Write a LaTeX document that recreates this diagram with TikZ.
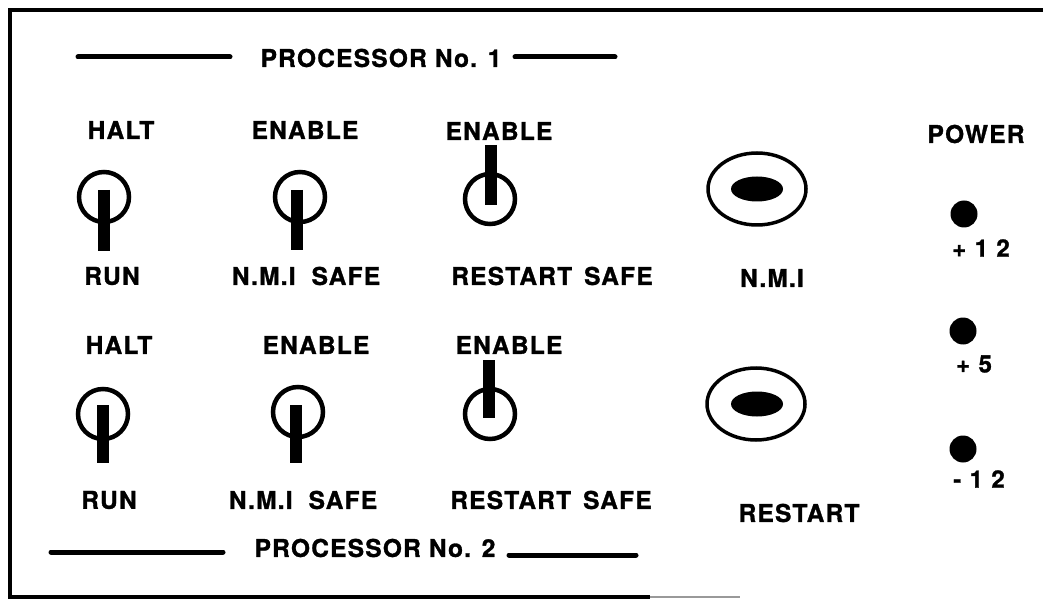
\documentclass[tikz,border=0pt]{standalone}
\usepackage{fontspec}
\newfontfamily\panelfont[LetterSpace=5,FakeBold=1.2]{TeX Gyre Heros}
\newfontfamily\numfont[LetterSpace=35,FakeBold=1.2]{TeX Gyre Heros}
\usetikzlibrary{shapes.geometric}
\tikzset{
  lbl/.style={inner sep=0pt, font=\panelfont\bfseries\fontsize{24.5}{28}\selectfont},
  numlbl/.style={inner sep=0pt, font=\numfont\bfseries\fontsize{24}{28}\selectfont},
  ring/.style={circle, draw, line width=4.5pt, minimum size=50pt, inner sep=0pt},
  lever/.style={line width=12pt},
  btnout/.style={ellipse, draw, line width=3.5pt, minimum width=98pt, minimum height=72pt, inner sep=0pt},
  btnin/.style={ellipse, fill=black, minimum width=52pt, minimum height=25pt, inner sep=0pt},
  led/.style={circle, fill=black, minimum size=27pt, inner sep=0pt},
  rule/.style={line width=5pt, line cap=round},
  frame/.style={line width=4pt}
}
\begin{document}
\begin{tikzpicture}[x=1pt,y=-1pt]
\useasboundingbox (0,0) rectangle (1043,601);
% frame
\draw[frame] (1043,10) -- (10,10) -- (10,597) -- (650,597);
\draw[line width=1.5pt, black!40] (650,597) -- (740,597);

% Processor 1 title
\node[lbl] (p1) at (381,58) {PROCESSOR No. 1};
\coordinate (p1a) at (78,57);
\coordinate (p1b) at (230,57);
\coordinate (p1c) at (515,57);
\coordinate (p1d) at (615,57);
\draw[rule] (p1a) -- (p1b);
\draw[rule] (p1c) -- (p1d);

% Row 1 labels
\node[lbl] (h1) at (121,130) {HALT};
\node[lbl] (e1) at (305,130) {ENABLE};
\node[lbl] (f1) at (499,131) {ENABLE};
\node[lbl] (pw) at (976,134) {POWER};
\node[lbl] (r1) at (112,276) {RUN};
\node[lbl] (n1) at (306,276) {N.M.I\hspace{16pt}SAFE};
\node[lbl] (s1) at (552,276) {RESTART\hspace{12pt}SAFE};
\node[lbl] (nmi) at (772,278) {N.M.I};

% Row 1 toggles
\node[ring] (t11) at (104,197) {};
\coordinate (l11a) at (104,190); \coordinate (l11b) at (104,251);
\draw[lever] (l11a) -- (l11b);
\node[ring] (t12) at (300,197) {};
\coordinate (l12a) at (297,190); \coordinate (l12b) at (297,250);
\draw[lever] (l12a) -- (l12b);
\node[ring] (t13) at (490,199) {};
\coordinate (l13a) at (491,145); \coordinate (l13b) at (491,205);
\draw[lever] (l13a) -- (l13b);

% NMI button
\node[btnout] (b1) at (757,189) {};
\node[btnin] (b1i) at (757,189) {};

% Processor 2
\node[lbl] (h2) at (119,345) {HALT};
\node[lbl] (e2) at (316,345) {ENABLE};
\node[lbl] (f2) at (509,345) {ENABLE};
\node[lbl] (r2) at (109,500) {RUN};
\node[lbl] (n2) at (303,500) {N.M.I\hspace{16pt}SAFE};
\node[lbl] (s2) at (551,500) {RESTART\hspace{12pt}SAFE};
\node[lbl] (rst) at (799,513) {RESTART};

\node[ring] (t21) at (103,414) {};
\coordinate (l21a) at (103,405); \coordinate (l21b) at (103,463);
\draw[lever] (l21a) -- (l21b);
\node[ring] (t22) at (298,412) {};
\coordinate (l22a) at (296,405); \coordinate (l22b) at (296,463);
\draw[lever] (l22a) -- (l22b);
\node[ring] (t23) at (490,414) {};
\coordinate (l23a) at (489,360); \coordinate (l23b) at (489,418);
\draw[lever] (l23a) -- (l23b);

\node[btnout] (b2) at (756,404) {};
\node[btnin] (b2i) at (757,404) {};

\node[lbl] (p2) at (375,548) {PROCESSOR No. 2};
\coordinate (p2a) at (51,552);
\coordinate (p2b) at (223,552);
\coordinate (p2c) at (509,555);
\coordinate (p2d) at (636,555);
\draw[rule] (p2a) -- (p2b);
\draw[rule] (p2c) -- (p2d);

% Power LEDs
\node[led] (led1) at (964,214) {};
\node[numlbl] (v1) at (981,248) {+12};
\node[led] (led2) at (963,331) {};
\node[numlbl] (v2) at (974,364) {+5};
\node[led] (led3) at (963,449) {};
\node[numlbl] (v3) at (979,479) {-12};
\end{tikzpicture}
\end{document}
